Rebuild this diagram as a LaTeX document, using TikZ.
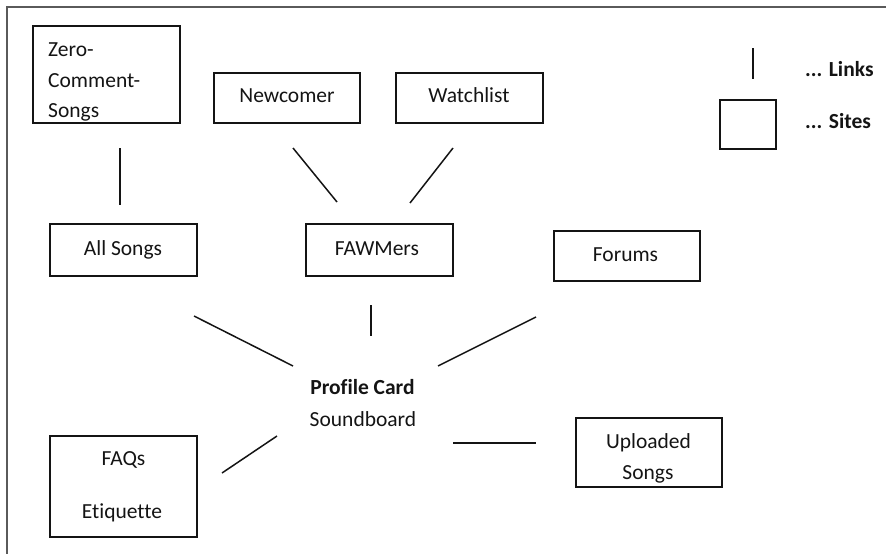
\documentclass[tikz,border=0pt]{standalone}
\usepackage{fontspec}
\setmainfont{Carlito}[Ligatures={NoCommon}]
\definecolor{ink}{HTML}{141414}
\definecolor{framegray}{HTML}{5A5A5A}
\tikzset{
  site/.style={draw=ink, line width=1.7pt, inner sep=0pt},
  link/.style={draw=ink, line width=1.5pt},
  txt/.style={inner sep=0pt, anchor=base, text=ink, font=\fontsize{21.5}{26}\selectfont},
  boldtxt/.style={txt, font=\fontsize{21.5}{26}\selectfont\bfseries},
}
\begin{document}
\begin{tikzpicture}[x=1pt,y=-1pt]
\useasboundingbox (0,0) rectangle (886,554);

% outer frame (top and left edges)
\coordinate (frameR) at (886,7);
\coordinate (frameTL) at (7,7);
\coordinate (frameB) at (7,554);
\draw[framegray, line width=2pt] (frameR) -- (frameTL) -- (frameB);

% sites
\node[site, minimum width=147pt, minimum height=97pt] (zero) at (106.5,74.5) {};
\node[txt, anchor=base west] (zeroA) at (48,56) {Zero-};
\node[txt, anchor=base west] (zeroB) at (48,87) {Comment-};
\node[txt, anchor=base west] (zeroC) at (48,117) {Songs};

\node[site, minimum width=146pt, minimum height=50pt] (newcomer) at (287,98) {};
\node[txt] (newcomerT) at (287,102) {Newcomer};

\node[site, minimum width=147pt, minimum height=50pt] (watchlist) at (469.5,98) {};
\node[txt] (watchlistT) at (469,102) {Watchlist};

\node[site, minimum width=147pt, minimum height=52pt] (allsongs) at (123.5,250) {};
\node[txt] (allsongsT) at (123,255) {All Songs};

\node[site, minimum width=147pt, minimum height=52pt] (fawmers) at (379.5,250) {};
\node[txt] (fawmersT) at (377,255) {FAWMers};

\node[site, minimum width=146pt, minimum height=50pt] (forums) at (627,256) {};
\node[txt] (forumsT) at (625.5,261) {Forums};

\node[site, minimum width=147pt, minimum height=101pt] (faqs) at (123.5,486.5) {};
\node[txt] (faqsT) at (123.5,465) {FAQs};
\node[txt] (etiquetteT) at (122,518) {Etiquette};

\node[site, minimum width=146pt, minimum height=69pt] (uploaded) at (649,452.5) {};
\node[txt] (uploadedA) at (648.5,448) {Uploaded};
\node[txt] (uploadedB) at (648,479) {Songs};

% centre
\node[boldtxt] (profile) at (362.5,394) {Profile Card};
\node[txt] (soundboard) at (363,426) {Soundboard};

% links
\coordinate (l1a) at (120,148); \coordinate (l1b) at (120,205);
\coordinate (l2a) at (293,148); \coordinate (l2b) at (337,202);
\coordinate (l3a) at (453,148); \coordinate (l3b) at (410,203);
\coordinate (l4a) at (194,316); \coordinate (l4b) at (293,366);
\coordinate (l5a) at (371,305); \coordinate (l5b) at (371,336);
\coordinate (l6a) at (536,317); \coordinate (l6b) at (438,366);
\coordinate (l7a) at (277,436); \coordinate (l7b) at (222,473);
\coordinate (l8a) at (453,443); \coordinate (l8b) at (536,443);
\draw[link] (l1a) -- (l1b);
\draw[link] (l2a) -- (l2b);
\draw[link] (l3a) -- (l3b);
\draw[link] (l4a) -- (l4b);
\draw[link] (l5a) -- (l5b);
\draw[link] (l6a) -- (l6b);
\draw[link] (l7a) -- (l7b);
\draw[link] (l8a) -- (l8b);

% legend
\coordinate (legA) at (753,48); \coordinate (legB) at (753,79);
\draw[link] (legA) -- (legB);
\node[site, minimum width=56pt, minimum height=49pt] (legsite) at (748,124.5) {};
\node[boldtxt, anchor=base west] (legLinks) at (805,76) {... Links};
\node[boldtxt, anchor=base west] (legSites) at (805,128) {... Sites};
\end{tikzpicture}
\end{document}
